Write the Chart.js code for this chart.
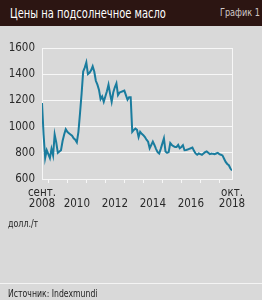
<!DOCTYPE html>
<html>
<head>
<meta charset="utf-8">
<script src="https://cdn.jsdelivr.net/npm/chart.js@4"></script>
<style>
  html, body { margin: 0; padding: 0; }
  body { width: 262px; height: 300px; background: #d9d9d9; position: relative; overflow: hidden;
         font-family: "DejaVu Sans Condensed", "Liberation Sans", sans-serif; }
  #head { position: absolute; left: 0; top: 0; width: 262px; height: 26px; background: #2c1512; }
  #title { position: absolute; left: 10px; top: 5px; color: #fff; font-size: 14.5px; white-space: nowrap;
           transform: scaleX(0.76); transform-origin: left top; }
  #num { position: absolute; left: 220px; top: 6px; color: #cfc8c6; font-size: 11px; white-space: nowrap;
         transform: scaleX(0.82); transform-origin: left top; }
  #unit { position: absolute; left: 8px; top: 218px; color: #222; font-size: 10px; white-space: nowrap;
          transform: scaleX(0.88); transform-origin: left top; }
  #sep { position: absolute; left: 0; top: 283px; width: 262px; height: 1px; background: #f4f4f4; }
  #src { position: absolute; left: 8px; top: 287px; color: #222; font-size: 10.5px; white-space: nowrap;
         transform: scaleX(0.82); transform-origin: left top; }
  #wrap { position: absolute; left: 0; top: 0; width: 262px; height: 300px; }
</style>
</head>
<body>
<div id="head"><span id="title">Цены на подсолнечное масло</span><span id="num">График 1</span></div>
<div id="wrap"><canvas id="chart" width="262" height="300"></canvas></div>
<div id="unit">долл./т</div>
<div id="sep"></div>
<div id="src">Источник: Indexmundi</div>
<script>
// monthly prices, sep 2008 .. oct 2018
var prices = [
  1180, 940, 760, 820, 790, 760, 830, 780, 940, 880, 800, 810,
  820, 890, 940, 980, 960, 950, 940, 930, 910, 900, 880, 960,
  1100, 1250, 1420, 1450, 1490, 1400, 1410, 1430, 1460, 1420, 1350, 1320,
  1280, 1210, 1230, 1190, 1230, 1270, 1320, 1250, 1190, 1260, 1300, 1330,
  1240, 1260, 1265, 1270, 1275, 1240, 1205, 1225, 1225, 960, 975, 985,
  975, 920, 960, 945, 935, 920, 900, 885, 835, 860, 885, 860,
  830, 805, 795, 830, 870, 910, 810, 800, 805, 875, 860, 850,
  845, 845, 860, 835, 845, 858, 820, 822, 825, 830, 835, 840,
  815, 795, 785, 795, 790, 785, 795, 805, 810, 800, 790, 795,
  792, 790, 795, 800, 790, 785, 780, 755, 730, 715, 705, 680,
  665
];

// x tick labels (month index -> text)
var labelMonths = [0, 22, 46, 70, 94, 120];
var labelTexts  = [['сент.', '2008'], ['', '2010'], ['', '2012'], ['', '2014'], ['', '2016'], ['окт.', '2018']];
// january of each year, for small tick marks
var yearMonths  = [4, 16, 28, 40, 52, 64, 76, 88, 100, 112];
var yTicks      = [600, 800, 1000, 1200, 1400, 1600];

var points = prices.map(function(v, i) { return { x: i, y: v } });
var xTickVals = labelMonths.concat(yearMonths).sort(function(a, b) { return a - b });

var font = "'DejaVu Sans Condensed', 'Liberation Sans', sans-serif";
var white = '#f7f7f7';

new Chart(document.getElementById('chart'), {
  type: 'line',
  data: {
    datasets: [{
      data: points,
      borderColor: '#1a7c9e',
      borderWidth: 2,
      pointRadius: 0,
      tension: 0
    }]
  },
  options: {
    responsive: false,
    animation: false,
    events: [],
    layout: { padding: { left: 0, right: 30, top: 48, bottom: 0 } },
    plugins: { legend: { display: false }, tooltip: { enabled: false } },
    scales: {
      x: {
        type: 'linear',
        min: 0,
        max: 120,
        afterBuildTicks: function(scale) {
          scale.ticks = xTickVals.map(function(v) { return { value: v } });
        },
        afterFit: function(scale) { scale.height = 121; },
        border: { display: true, color: white, width: 1 },
        grid: {
          color: 'rgba(0,0,0,0)',
          tickColor: function(ctx) {
            var v = ctx.tick ? ctx.tick.value : null;
            return yearMonths.indexOf(v) >= 0 ? white : 'rgba(0,0,0,0)';
          },
          tickLength: 4
        },
        ticks: {
          autoSkip: false,
          maxRotation: 0,
          padding: 4,
          color: '#2a2a2a',
          font: { family: font, size: 11.5, lineHeight: 1.0 },
          callback: function(value) {
            var i = labelMonths.indexOf(value);
            return i >= 0 ? labelTexts[i] : '';
          }
        }
      },
      y: {
        min: 600,
        max: 1600,
        afterBuildTicks: function(scale) {
          scale.ticks = yTicks.map(function(v) { return { value: v } });
        },
        afterFit: function(scale) { scale.width = 42; },
        border: { display: true, color: white, width: 1 },
        grid: { color: white, drawTicks: false },
        ticks: {
          padding: 7,
          color: '#2a2a2a',
          font: { family: font, size: 11.5 },
          callback: function(value) { return String(value); }
        }
      },
      yRight: {
        position: 'right',
        min: 600,
        max: 1600,
        afterFit: function(scale) { scale.width = 0; },
        border: { display: true, color: white, width: 1 },
        grid: { display: false },
        ticks: { display: false }
      }
    }
  }
});
</script>
</body>
</html>
